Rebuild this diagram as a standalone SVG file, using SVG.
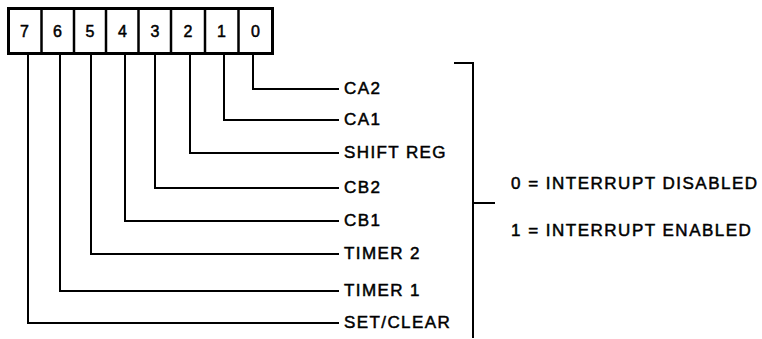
<svg xmlns="http://www.w3.org/2000/svg" width="762" height="339" viewBox="0 0 762 339">
<style>
.frame{fill:#fff;stroke:#000;stroke-width:3}
.div{stroke:#000;stroke-width:2.5}
.wire{fill:none;stroke:#000;stroke-width:2;stroke-linecap:square}
.dig{font-family:"Liberation Sans",Arial,sans-serif;font-size:16px;text-anchor:middle;fill:#000;stroke:#000;stroke-width:0.5}
.lbl{font-family:"Liberation Sans",Arial,sans-serif;font-size:17px;letter-spacing:1.4px;fill:#000;stroke:#000;stroke-width:0.5}
.leg{letter-spacing:1.5px}
</style>
<rect width="762" height="339" fill="#fff"/>
<g id="register">
<rect class="frame" x="8.5" y="8.5" width="264" height="45"/>
<line class="div" x1="41.5" y1="8.5" x2="41.5" y2="53.5"/>
<line class="div" x1="74" y1="8.5" x2="74" y2="53.5"/>
<line class="div" x1="106" y1="8.5" x2="106" y2="53.5"/>
<line class="div" x1="138.5" y1="8.5" x2="138.5" y2="53.5"/>
<line class="div" x1="171" y1="8.5" x2="171" y2="53.5"/>
<line class="div" x1="205" y1="8.5" x2="205" y2="53.5"/>
<line class="div" x1="238.5" y1="8.5" x2="238.5" y2="53.5"/>
<g id="bit7"><text class="dig" x="24.5" y="37">7</text></g>
<g id="bit6"><text class="dig" x="57.5" y="37">6</text></g>
<g id="bit5"><text class="dig" x="90" y="37">5</text></g>
<g id="bit4"><text class="dig" x="122.5" y="37">4</text></g>
<g id="bit3"><text class="dig" x="155" y="37">3</text></g>
<g id="bit2"><text class="dig" x="188" y="37">2</text></g>
<g id="bit1"><text class="dig" x="221.5" y="37">1</text></g>
<g id="bit0"><text class="dig" x="255.5" y="37">0</text></g>
</g>
<g id="connectors">
<path class="wire" d="M253 55 V89 H338"/>
<path class="wire" d="M224 55 V120 H338"/>
<path class="wire" d="M190 55 V153 H338"/>
<path class="wire" d="M155 55 V188 H338"/>
<path class="wire" d="M125 55 V221 H338"/>
<path class="wire" d="M91 55 V254 H338"/>
<path class="wire" d="M60 55 V291 H338"/>
<path class="wire" d="M28 55 V323 H338"/>
<path class="wire" d="M455 63 H473 V337"/>
<path class="wire" d="M473 203 H494"/>
</g>
<g id="labels">
<text class="lbl" x="344" y="94">CA2</text>
<text class="lbl" x="344" y="125">CA1</text>
<text class="lbl" x="344" y="158">SHIFT REG</text>
<text class="lbl" x="344" y="193">CB2</text>
<text class="lbl" x="344" y="226">CB1</text>
<text class="lbl" x="344" y="259">TIMER 2</text>
<text class="lbl" x="344" y="296">TIMER 1</text>
<text class="lbl" x="344" y="328">SET/CLEAR</text>
</g>
<g id="legend">
<text class="lbl leg" x="511" y="189">0 = INTERRUPT DISABLED</text>
<text class="lbl leg" x="511" y="236">1 = INTERRUPT ENABLED</text>
</g>
</svg>
